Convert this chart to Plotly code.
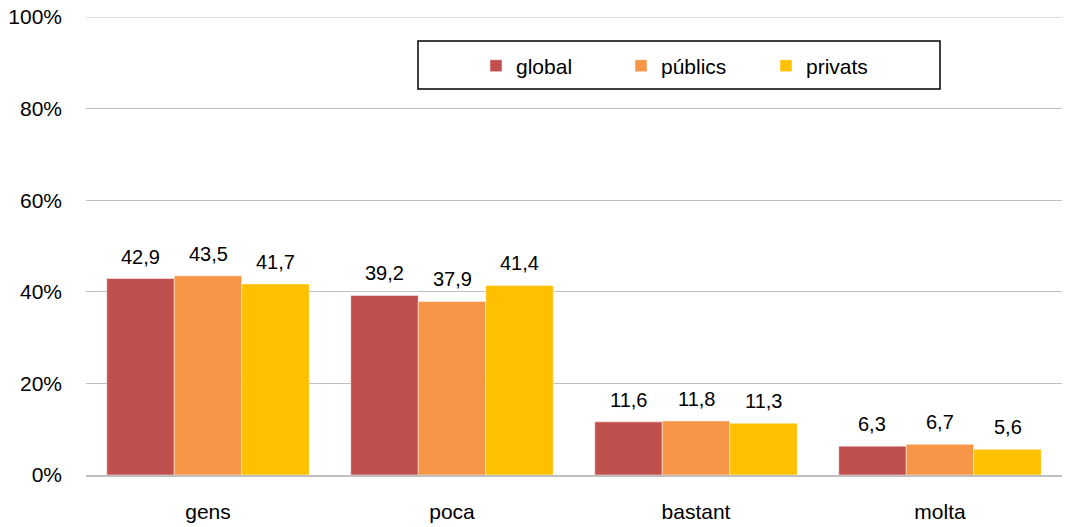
import plotly.graph_objects as go

categories = ["gens", "poca", "bastant", "molta"]
series_names = ["global", "públics", "privats"]
global_vals = [42.9, 39.2, 11.6, 6.3]
publics_vals = [43.5, 37.9, 11.8, 6.7]
privats_vals = [41.7, 41.4, 11.3, 5.6]
colors = ["#C0504D", "#F79646", "#FFC000"]
y_ticks = [0, 20, 40, 60, 80, 100]
y_tick_labels = ["0%", "20%", "40%", "60%", "80%", "100%"]

FONT = "Liberation Sans, Arial, sans-serif"
FS = 20
FS_AX = 21
GRID = "#BFBFBF"

def fmt(v):
    return f"{v:.1f}".replace(".", ",")

W, H = 1070, 527
L, R, T, B = 86, 8, 17, 52
plot_w = W - L - R
plot_h = H - T - B
bargap = 0.17
cat_px = plot_w / len(categories)
bar_px = cat_px * (1 - bargap) / len(series_names)

def px_x(sx):
    return (sx - L) / plot_w

def px_y(sy):
    return (H - B - sy) / plot_h

fig = go.Figure()
annotations = []
all_vals = [global_vals, publics_vals, privats_vals]
for i, (name, vals, col) in enumerate(zip(series_names, all_vals, colors)):
    fig.add_trace(go.Bar(
        name=name, x=categories, y=vals,
        marker=dict(color=col, line=dict(color="rgba(255,255,255,0.6)", width=0.8)),
        hoverinfo="x+y",
    ))
    for c, v in zip(categories, vals):
        annotations.append(dict(
            x=c, y=v, xref="x", yref="y", text=fmt(v), showarrow=False,
            xanchor="center", yanchor="bottom",
            xshift=(i - 1) * bar_px, yshift=9,
            font=dict(family=FONT, size=FS, color="#000000"),
        ))

fig.update_layout(
    width=W, height=H,
    margin=dict(l=L, r=R, t=T, b=B),
    paper_bgcolor="white", plot_bgcolor="white",
    barmode="group", bargap=bargap, bargroupgap=0,
    font=dict(family=FONT, size=FS, color="#000000"),
    showlegend=True,
    legend=dict(
        orientation="h", x=px_x(476), xanchor="left",
        y=px_y(66), yanchor="middle",
        bgcolor="rgba(0,0,0,0)", borderwidth=0,
        font=dict(family=FONT, size=FS_AX, color="#000000"),
        entrywidth=100, entrywidthmode="pixels", itemwidth=30,
        traceorder="normal",
    ),
    annotations=annotations,
    shapes=[
        dict(type="line", xref="paper", yref="y", x0=0, x1=1,
             y0=y_ticks[-1], y1=y_ticks[-1],
             line=dict(color=GRID, width=1.2), layer="below"),
        dict(type="rect", xref="paper", yref="paper",
             x0=px_x(418), x1=px_x(940),
             y0=px_y(89), y1=px_y(41),
             line=dict(color="#000000", width=1.5), fillcolor="rgba(0,0,0,0)",
             layer="below"),
    ],
)

fig.update_yaxes(
    range=[0, 100], tickvals=y_ticks, ticktext=y_tick_labels,
    showgrid=True, gridcolor=GRID, gridwidth=1.2,
    zeroline=False, showline=False, ticks="", ticklabelstandoff=23,
    tickfont=dict(family=FONT, size=FS_AX, color="#000000"),
    ticklabeloverflow="allow", automargin=False,
)
fig.update_xaxes(
    showline=True, linecolor=GRID, linewidth=1.5, ticks="",
    tickfont=dict(family=FONT, size=FS_AX, color="#000000"),
    ticklabelstandoff=17, automargin=False,
)

fig.write_html(
    "out.html",
    config={"displayModeBar": False},
    post_script="document.body.style.margin='0px';",
)
